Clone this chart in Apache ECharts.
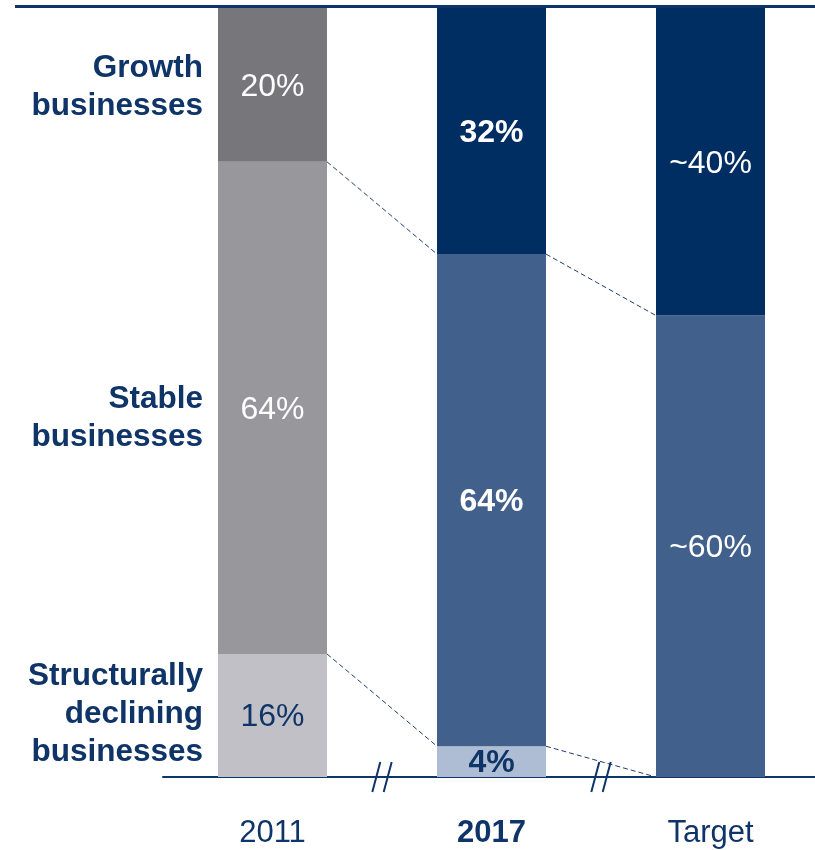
<!DOCTYPE html>
<html>
<head>
<meta charset="utf-8">
<script src="https://cdn.jsdelivr.net/npm/echarts@6/dist/echarts.min.js"></script>
<style>
  html, body { margin: 0; padding: 0; background: #ffffff; overflow: hidden; }
  #chart { width: 830px; height: 850px; }
</style>
</head>
<body>
<div id="chart"></div>
<script>
// Portfolio mix by business type (share of total, %)
const categories = ['2011', '2017', 'Target'];
const growth = [20, 32, 40];
const stable = [64, 64, 60];
const declining = [16, 4, 0];

const growthText = ['20%', '32%', '~40%'];
const stableText = ['64%', '64%', '~60%'];
const decliningText = ['16%', '4%', ''];

const segmentNames = ['Growth\nbusinesses', 'Stable\nbusinesses', 'Structurally\ndeclining\nbusinesses'];

const FONT = '"Liberation Sans", Arial, Helvetica, sans-serif';
const NAVY = '#0f3468';
const BAR_W = 109;
const HIGHLIGHT = '2017';
// small vertical nudges (px) for the segment names
const NAME_NUDGE = [2, 10, -1];

const greyColors = { growth: '#77767b', stable: '#98979c', declining: '#c1c0c6' };
const blueColors = { growth: '#002d62', stable: '#42608c', declining: '#afbdd4' };

function colorsFor(i) { return i === 0 ? greyColors : blueColors; }

function barData(values, texts, key, textColor) {
  return values.map(function (v, i) {
    const bold = categories[i] === HIGHLIGHT;
    return {
      value: v,
      itemStyle: { color: colorsFor(i)[key] },
      label: {
        show: texts[i] !== '',
        formatter: texts[i],
        color: textColor,
        fontWeight: bold ? 'bold' : 'normal'
      }
    };
  });
}

const labelBase = { position: 'inside', offset: [0, 2], fontFamily: FONT, fontSize: 32 };

// Dashed connectors between neighbouring bars at each segment boundary
const connectors = [];
for (let i = 0; i < categories.length - 1; i++) {
  connectors.push([i, declining[i] + stable[i], i + 1, declining[i + 1] + stable[i + 1]]);
  connectors.push([i, declining[i], i + 1, declining[i + 1]]);
}

// Segment names beside the first bar, centred on each segment
const nameAnchors = [
  [0, declining[0] + stable[0] + growth[0] / 2],
  [0, declining[0] + stable[0] / 2],
  [0, declining[0] / 2]
];

const chart = echarts.init(document.getElementById('chart'), null, { renderer: 'canvas' });

chart.setOption({
  animation: false,
  backgroundColor: '#ffffff',
  grid: { left: 163, top: 8, bottom: 73, width: 657, containLabel: false },
  xAxis: {
    type: 'category',
    data: categories,
    axisTick: { show: false },
    axisLine: { lineStyle: { color: NAVY, width: 2 } },
    axisLabel: {
      margin: 41,
      fontFamily: FONT,
      fontSize: 31,
      color: NAVY,
      formatter: function (v) { return v === HIGHLIGHT ? '{b|' + v + '}' : v; },
      rich: { b: { fontFamily: FONT, fontSize: 31, fontWeight: 'bold', color: NAVY } }
    }
  },
  yAxis: { type: 'value', min: 0, max: 100, show: false, splitLine: { show: false } },
  graphic: [{
    type: 'line',
    z: 100,
    shape: { x1: 15, y1: 6.5, x2: 815, y2: 6.5 },
    style: { stroke: NAVY, lineWidth: 3 }
  }],
  series: [
    {
      name: 'Structurally declining businesses', type: 'bar', stack: 'mix', barWidth: BAR_W,
      label: labelBase, data: barData(declining, decliningText, 'declining', NAVY)
    },
    {
      name: 'Stable businesses', type: 'bar', stack: 'mix', barWidth: BAR_W,
      label: labelBase, data: barData(stable, stableText, 'stable', '#ffffff')
    },
    {
      name: 'Growth businesses', type: 'bar', stack: 'mix', barWidth: BAR_W,
      label: labelBase, data: barData(growth, growthText, 'growth', '#ffffff')
    },
    {
      name: 'connectors', type: 'custom', z: 3,
      data: connectors,
      renderItem: function (params, api) {
        const a = api.coord([api.value(0), api.value(1)]);
        const b = api.coord([api.value(2), api.value(3)]);
        return {
          type: 'line',
          shape: { x1: a[0] + BAR_W / 2, y1: a[1], x2: b[0] - BAR_W / 2, y2: b[1] },
          style: { stroke: '#1f3f72', lineWidth: 1, lineDash: [5, 3] }
        };
      }
    },
    {
      name: 'axis breaks', type: 'custom', z: 4,
      data: [[0], [1]],
      renderItem: function (params, api) {
        const a = api.coord([api.value(0), 0]);
        const b = api.coord([api.value(0) + 1, 0]);
        const mx = (a[0] + b[0]) / 2;
        const y = a[1] + 1;
        const children = [-5.7, 5.7].map(function (off) {
          return {
            type: 'line',
            shape: { x1: mx + off + 4, y1: y - 16, x2: mx + off - 4, y2: y + 14 },
            style: { stroke: NAVY, lineWidth: 2 }
          };
        });
        return { type: 'group', children: children };
      }
    },
    {
      name: 'segment names', type: 'custom', z: 5,
      data: nameAnchors,
      renderItem: function (params, api) {
        const p = api.coord([api.value(0), api.value(1)]);
        return {
          type: 'text',
          style: {
            text: segmentNames[params.dataIndex],
            x: p[0] - BAR_W / 2 - 15,
            y: p[1] + NAME_NUDGE[params.dataIndex],
            align: 'right',
            verticalAlign: 'middle',
            fontFamily: FONT,
            fontSize: 31.5,
            fontWeight: 'bold',
            lineHeight: 38,
            fill: NAVY
          }
        };
      }
    }
  ]
});
</script>
</body>
</html>
